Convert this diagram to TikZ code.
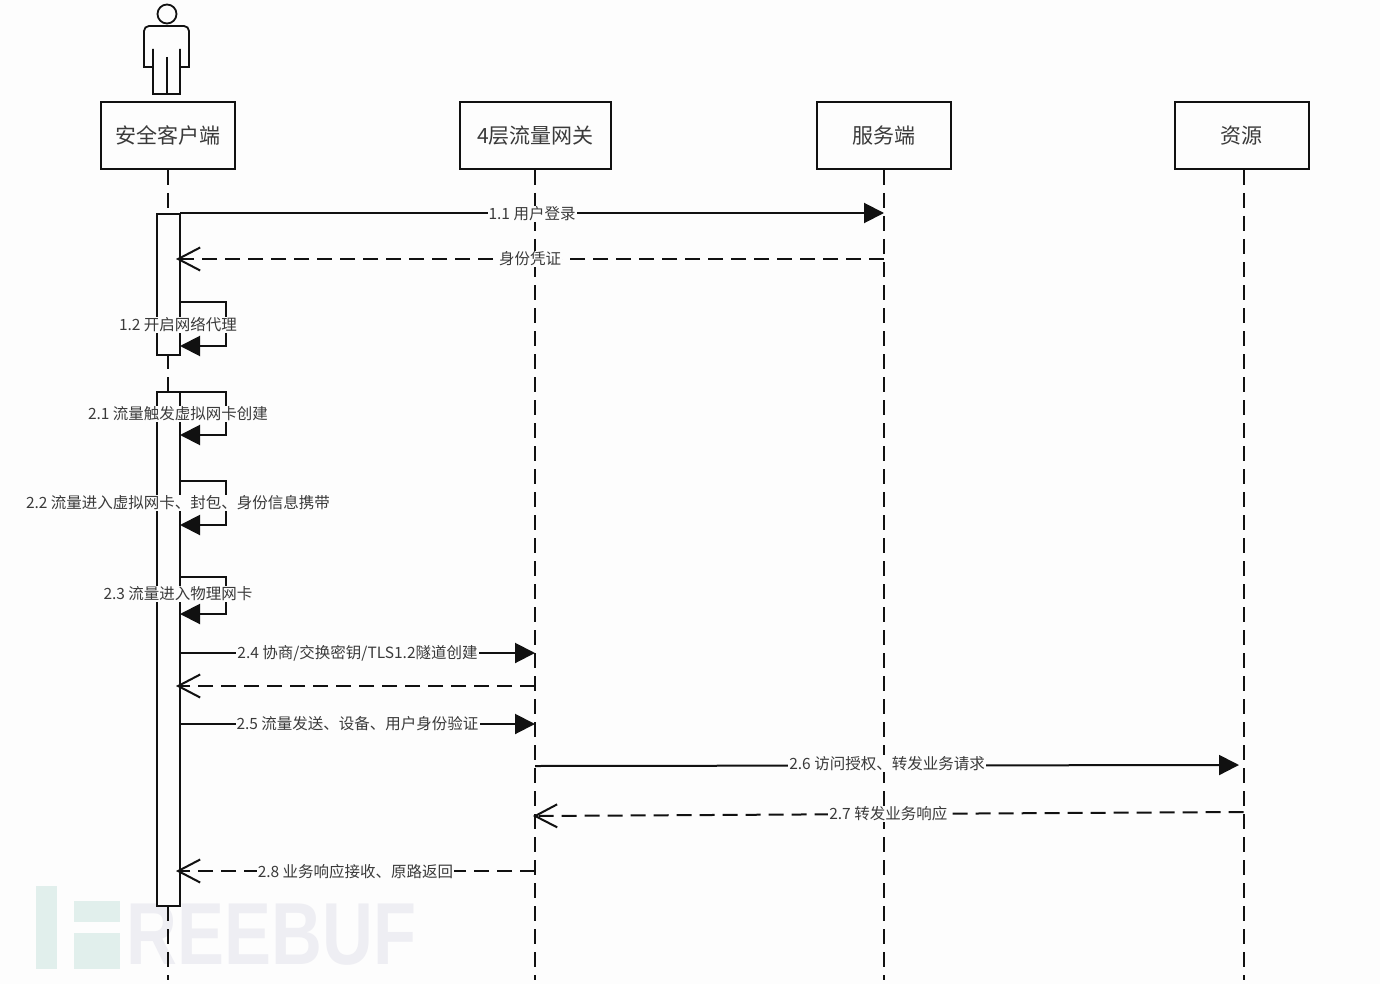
\documentclass[tikz,border=0pt]{standalone}
\usepackage{fontspec}
\setmainfont{Noto Sans CJK SC}
\newfontfamily\markfont{Liberation Sans}
\usetikzlibrary{arrows.meta,calc,positioning}
\definecolor{SeqInk}{HTML}{111111}
\definecolor{SeqText}{HTML}{3A3A3A}
\definecolor{SeqPaper}{HTML}{FDFDFD}
\definecolor{MarkTeal}{HTML}{E1EFEC}
\definecolor{MarkGrey}{HTML}{EEEEF3}
\tikzset{
  every node/.style={text=SeqText},
  party/.style={draw=SeqInk, line width=2pt, fill=SeqPaper, minimum height=67pt, inner sep=0pt, font=\fontsize{21}{24}\selectfont},
  lifeline/.style={draw=SeqInk, line width=2pt, dash pattern=on 15pt off 8pt},
  activation/.style={draw=SeqInk, line width=2pt, fill=SeqPaper, minimum width=23pt, inner sep=0pt, anchor=north},
  call/.style={-{Triangle[length=20pt,width=20pt]}, draw=SeqInk, line width=2pt},
  reply/.style={-{Straight Barb[length=22pt,width=23pt]}, draw=SeqInk, line width=2pt, dash pattern=on 15pt off 8pt},
  msg/.style={fill=SeqPaper, inner sep=1pt, font=\fontsize{15.5}{18}\selectfont},
  markbar/.style={fill=MarkTeal},
}
\begin{document}
\begin{tikzpicture}[x=1pt,y=-1pt]
  \useasboundingbox[fill=SeqPaper] (0,0) rectangle (1380,984);
  % Watermark
  \fill[markbar] (36,886) rectangle (57,969);
  \fill[markbar] (74,901) rectangle (120,922);
  \fill[markbar] (74,933) rectangle (120,969);
  \node[font=\markfont\bfseries\fontsize{88}{88}\selectfont, text=MarkGrey, inner sep=0pt, xscale=.8, transform shape] (mark) at (271.5,935) {REEBUF};
  % Actor figure
  \draw[SeqInk, line width=1.8pt] (167,14) circle (9.5);
  \draw[SeqInk, line width=1.8pt] (153,49) -- (153,67) -- (144,67) [rounded corners=5pt] -- (144,26) -- (189,26) [sharp corners] -- (189,67) -- (180,67) -- (180,49);
  \draw[SeqInk, line width=1.8pt] (153,49) -- (153,94) -- (180,94) -- (180,49);
  \draw[SeqInk, line width=1.8pt] (167,57) -- (167,94);
  % Parties
  \node[party, minimum width=134pt] (client) at (167.5,135.5) {安全客户端};
  \node[party, minimum width=151pt] (gateway) at (535.5,135.5) {4层流量网关};
  \node[party, minimum width=134pt] (server) at (884,135.5) {服务端};
  \node[party, minimum width=134pt] (resource) at (1241.5,135.5) {资源};
  % Lifelines
  \coordinate (clientEnd) at (167.5,980);
  \coordinate (gatewayEnd) at (535,980);
  \coordinate (serverEnd) at (884,980);
  \coordinate (resourceEnd) at (1243.5,980);
  \draw[lifeline] (client.south) -- (clientEnd);
  \draw[lifeline] (gateway.south -| gatewayEnd) -- (gatewayEnd);
  \draw[lifeline] (server.south) -- (serverEnd);
  \draw[lifeline] (resource.south -| resourceEnd) -- (resourceEnd);
  % Activation bars
  \node[activation, minimum height=141pt] (barOne) at (168.5,213) {};
  \node[activation, minimum height=514pt] (barTwo) at (168.5,391) {};
  % Messages
  \foreach \n/\st/\xa/\ya/\xb/\yb/\dy/\txt in {
      a/call/180/213/884/213/1/{1.1 用户登录},
      b/reply/884/259/176/259/0/{身份凭证},
      c/call/180/653/535/653/0/{2.4 协商/交换密钥/TLS1.2隧道创建},
      e/call/180/724/535/724/0/{2.5 流量发送、设备、用户身份验证},
      f/call/535/766/1239/765/-2/{2.6 访问授权、转发业务请求},
      g/reply/1243.5/812/533/816/0/{2.7 转发业务响应},
      h/reply/535/871/176/871/1/{2.8 业务响应接收、原路返回}}
  {
    \coordinate (from\n) at (\xa,\ya);
    \coordinate (to\n) at (\xb,\yb);
    \draw[\st] (from\n) -- node[msg, yshift=-\dy pt] (label\n) {\txt} (to\n);
  }
  % Reply without a label
  \coordinate (fromd) at (535,686);
  \coordinate (tod) at (176,686);
  \draw[reply] (fromd) -- (tod);
  % Self calls
  \foreach \n/\ya/\yb/\ym/\txt in {
      i/302/346/325/{1.2 开启网络代理},
      j/392/435/414/{2.1 流量触发虚拟网卡创建},
      k/481/525/503/{2.2 流量进入虚拟网卡、封包、身份信息携带},
      l/577/614/594/{2.3 流量进入物理网卡}}
  {
    \coordinate (from\n) at (180,\ya);
    \coordinate (to\n) at (180,\yb);
    \draw[call] (from\n) -- ++(46,0) |- (to\n);
    \node[msg] (label\n) at (178,\ym) {\txt};
  }
\end{tikzpicture}
\end{document}
